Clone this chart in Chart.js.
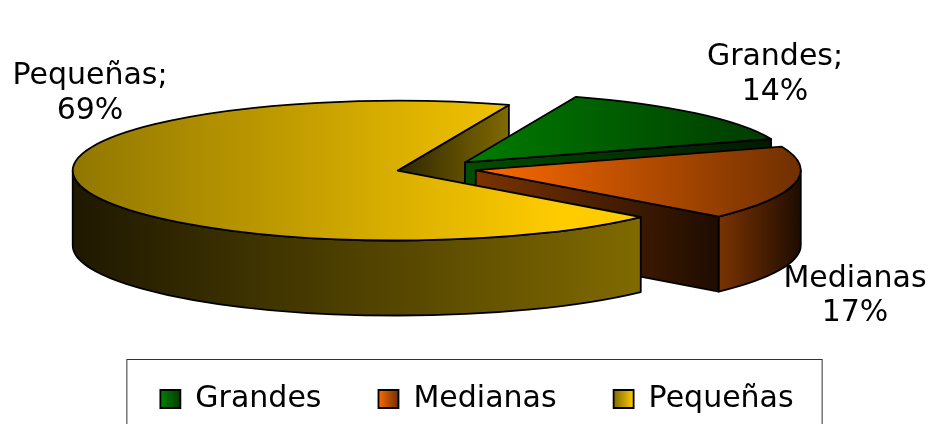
<!DOCTYPE html>
<html>
<head>
<meta charset="utf-8">
<style>
  html, body { margin: 0; padding: 0; background: #fff; overflow: hidden; }
  canvas { display: block; }
</style>
<script src="https://cdn.jsdelivr.net/npm/chart.js@4"></script>
</head>
<body>
<canvas id="canvasChart" width="929" height="424"></canvas>
<script>
const categories = ['Grandes', 'Medianas', 'Pequeñas']
const shares = [14, 17, 69]

// text next to the slices
const nameLines = ['Grandes;', 'Medianas', 'Pequeñas;']
const labelCenterX = [775, 855, 90]
const labelNameY = [57, 279, 76]
const labelValueY = [92, 313, 111]

// [left, right] of each gradient
const topColors = [['#008000', '#003d00'], ['#ff6a00', '#703000'], ['#7f6900', '#ffcc00']]
const faceColors = [['#004d00', '#001a00'], ['#7a3300', '#1e0c00'], ['#2e2600', '#806a00']]
const wallColors = [['#004d00', '#001a00'], ['#7a3300', '#1e0c00'], ['#1e1800', '#806a00']]

const squash = 0.215
const depth = 75
const pieShiftX = -40.5
const pieShiftY = -2
const fontFamily = '"DejaVu Sans", sans-serif'
const fontSize = 30

const hGradient = (ctx, x0, x1, colors) => {
  const g = ctx.createLinearGradient(x0, 0, x1, 0)
  g.addColorStop(0, colors[0])
  g.addColorStop(1, colors[1])
  return g
}

// centre and radius of a slice once it is pulled out of the pie
const arcGeometry = (arc) => {
  const shift = (arc.options.offset || 0) / 4
  const mid = (arc.startAngle + arc.endAngle) / 2
  return {
    x: arc.x + Math.cos(mid) * shift + pieShiftX,
    y: arc.y + Math.sin(mid) * shift * squash + pieShiftY,
    r: arc.outerRadius + shift,
    start: arc.startAngle,
    end: arc.endAngle,
  }
}

const xRange = (g) => {
  let min = g.x
  let max = g.x
  for (let t = 0; t <= 1; t += 0.002) {
    const x = g.x + Math.cos(g.start + (g.end - g.start) * t) * g.r
    min = Math.min(min, x)
    max = Math.max(max, x)
  }
  return [min, max]
}

const drawCutFace = (ctx, g, angle, colors) => {
  const ex = g.x + Math.cos(angle) * g.r
  const ey = g.y + Math.sin(angle) * g.r * squash
  ctx.beginPath()
  ctx.moveTo(g.x, g.y)
  ctx.lineTo(ex, ey)
  ctx.lineTo(ex, ey + depth)
  ctx.lineTo(g.x, g.y + depth)
  ctx.closePath()
  ctx.fillStyle = hGradient(ctx, Math.min(g.x, ex), Math.max(g.x, ex), colors)
  ctx.fill()
  ctx.stroke()
}

const drawFaces = (ctx, g, i) => {
  if (Math.cos(g.start) < 0) drawCutFace(ctx, g, g.start, faceColors[i])
  if (Math.cos(g.end) > 0) drawCutFace(ctx, g, g.end, faceColors[i])
}

const drawWall = (ctx, g, i) => {
  const a0 = Math.max(g.start, 0)
  const a1 = Math.min(g.end, Math.PI)
  if (a1 <= a0) return
  const x0 = g.x + Math.cos(a0) * g.r
  const x1 = g.x + Math.cos(a1) * g.r
  ctx.beginPath()
  ctx.ellipse(g.x, g.y, g.r, g.r * squash, 0, a0, a1)
  ctx.lineTo(x1, g.y + Math.sin(a1) * g.r * squash + depth)
  ctx.ellipse(g.x, g.y + depth, g.r, g.r * squash, 0, a1, a0, true)
  ctx.closePath()
  const rng = xRange({ ...g, start: a0, end: a1 })
  const visible = [Math.min(x0, x1, rng[1]), Math.max(x0, x1)]
  ctx.fillStyle = hGradient(ctx, visible[0], visible[1], wallColors[i])
  ctx.fill()
  ctx.stroke()
}

const drawTop = (ctx, arc, g, i) => {
  const rng = xRange(g)
  const options = arc.options
  const radius = arc.outerRadius
  // the arc adds its own radius for an offset, so draw it flat at the real centre
  arc.options = { ...options, offset: 0, backgroundColor: hGradient(ctx, rng[0], rng[1], topColors[i]) }
  arc.outerRadius = g.r
  ctx.save()
  ctx.translate(g.x - arc.x, g.y)
  ctx.scale(1, squash)
  ctx.translate(0, -arc.y)
  arc.draw(ctx)
  ctx.restore()
  arc.options = options
  arc.outerRadius = radius
  // outline afterwards so the line is not squashed too
  ctx.beginPath()
  ctx.moveTo(g.x, g.y)
  ctx.ellipse(g.x, g.y, g.r, g.r * squash, 0, g.start, g.end)
  ctx.closePath()
  ctx.stroke()
}

const pie3d = {
  id: 'pie3d',
  afterUpdate(chart) {
    const legend = chart.legend
    const ctx = chart.ctx
    legend.legendItems.forEach((item, i) => {
      const box = legend.legendHitBoxes[i]
      item.fillStyle = hGradient(ctx, box.left, box.left + legend.options.labels.boxWidth, topColors[i])
      item.strokeStyle = '#000'
      item.lineWidth = 1.8
    })
  },
  beforeDatasetDraw(chart) {
    const ctx = chart.ctx
    const arcs = chart.getDatasetMeta(0).data
    const geoms = arcs.map(arcGeometry)
    const last = arcs.length - 1
    ctx.save()
    ctx.strokeStyle = '#000'
    ctx.lineWidth = 1.8
    ctx.lineJoin = 'round'
    drawFaces(ctx, geoms[last], last)
    arcs.forEach((arc, i) => {
      if (i !== last) drawFaces(ctx, geoms[i], i)
      drawWall(ctx, geoms[i], i)
      drawTop(ctx, arc, geoms[i], i)
    })
    ctx.restore()
    return false
  },
  afterDraw(chart) {
    const ctx = chart.ctx
    const boxes = chart.legend.legendHitBoxes
    const first = boxes[0]
    const lastBox = boxes[boxes.length - 1]
    ctx.save()
    ctx.strokeStyle = '#333'
    ctx.lineWidth = 1
    ctx.strokeRect(first.left - 33.5, first.top - 24.5, lastBox.left + lastBox.width - first.left + 62, 120)
    ctx.fillStyle = '#000'
    ctx.font = `${fontSize}px ${fontFamily}`
    ctx.textAlign = 'center'
    ctx.textBaseline = 'middle'
    shares.forEach((v, i) => {
      ctx.fillText(nameLines[i], labelCenterX[i], labelNameY[i])
      ctx.fillText(`${v}%`, labelCenterX[i], labelValueY[i])
    })
    ctx.restore()
  },
}

new Chart(document.getElementById('canvasChart'), {
  type: 'pie',
  data: {
    labels: categories,
    datasets: [
      {
        data: shares,
        backgroundColor: topColors.map((c) => c[0]),
        borderWidth: 0,
        offset: 160,
        radius: 285,
        clip: false,
      },
    ],
  },
  options: {
    responsive: false,
    animation: false,
    rotation: 20,
    layout: { padding: { left: 25, top: 14 } },
    events: [],
    plugins: {
      tooltip: { enabled: false },
      legend: {
        position: 'bottom',
        labels: {
          boxWidth: 20,
          boxHeight: 18,
          padding: 57,
          color: '#000',
          font: { family: fontFamily, size: fontSize },
        },
      },
    },
  },
  plugins: [pie3d],
})
</script>
</body>
</html>
